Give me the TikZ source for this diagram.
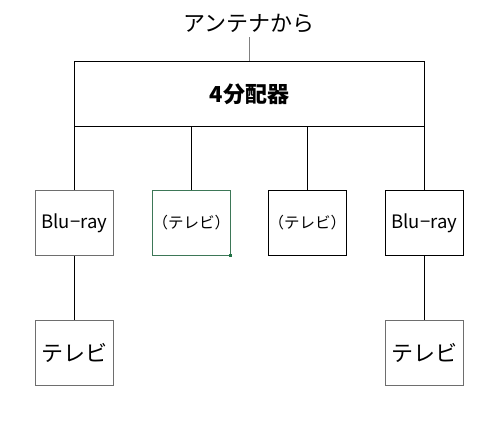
\documentclass[tikz,border=0pt]{standalone}
\usepackage{fontspec}
\setmainfont{Noto Sans CJK JP}
\definecolor{selgreen}{HTML}{217346}
\definecolor{edgegray}{HTML}{6E6E6E}
\begin{document}
\begin{tikzpicture}[x=1pt,y=-1pt,
  box/.style={draw=black, line width=0.8pt, minimum width=78pt, minimum height=65pt, inner sep=0pt, anchor=north west},
  wire/.style={draw=black, line width=0.8pt},
  small/.style={font=\fontsize{15.5}{15.5}\selectfont},
  blu/.style={font=\fontsize{18.5}{18.5}\selectfont},
  big/.style={font=\fontsize{22}{22}\selectfont}]
\useasboundingbox (0,0) rectangle (500,431);
\node[big, inner sep=0pt] (ant) at (249,24) {アンテナから};
\node[draw=black, line width=0.8pt, minimum width=350pt, minimum height=65pt, inner sep=0pt, anchor=north west,
      font=\bfseries\fontsize{22}{22}\selectfont] (split) at (74,61) {4分配器};
\node[box, draw=edgegray, blu] (b1) at (35,190) {\makebox[0pt][c]{Blu−ray}};
\node[box, draw=selgreen!70!gray, small] (b2) at (152,190) {\makebox[0pt][c]{（テレビ）}};
\node[box, small] (b3) at (268,190) {\makebox[0pt][c]{（テレビ）}};
\node[box, blu] (b4) at (385,190) {\makebox[0pt][c]{Blu−ray}};
\node[box, draw=edgegray, big] (t1) at (35,320) {テレビ};
\node[box, draw=edgegray, big] (t2) at (385,320) {テレビ};
\fill[selgreen] ([xshift=-1.5pt,yshift=1.5pt]b2.south east) rectangle ([xshift=1.5pt,yshift=-1.5pt]b2.south east);
\draw[draw=gray, line width=0.8pt] (ant.south |- 0,37) -- (ant.south |- split.north);
\draw[wire] (b1.north) -- (b1.north |- split.south);
\draw[wire] (b2.north) -- (b2.north |- split.south);
\draw[wire] (b3.north) -- (b3.north |- split.south);
\draw[wire] (b4.north) -- (b4.north |- split.south);
\draw[wire] (b1.south) -- (t1.north);
\draw[wire] (b4.south) -- (t2.north);
\end{tikzpicture}
\end{document}
